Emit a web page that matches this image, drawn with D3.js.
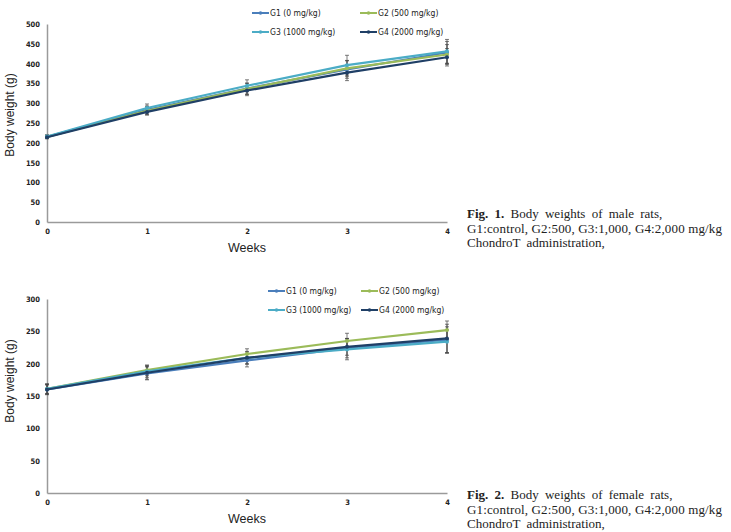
<!DOCTYPE html>
<html>
<head>
<meta charset="utf-8">
<script src="https://cdn.jsdelivr.net/npm/d3@7"></script>
<style>
  body { margin: 0; background: #fff; }
  svg { display: block; }
</style>
</head>
<body>
<div id="chart"></div>
<script>
// weeks on the x axis
const weeks = [0, 1, 2, 3, 4];
const groups = ["G1 (0 mg/kg)", "G2 (500 mg/kg)", "G3 (1000 mg/kg)", "G4 (2000 mg/kg)"];

// male rats, mean body weight (g)
const maleG1 = [215, 283, 337, 385, 428];
const maleG2 = [215, 281, 336, 388, 423];
const maleG3 = [216, 288, 344, 396, 431];
const maleG4 = [214, 278, 332, 377, 416];
// male standard deviations
const maleSdG1 = [4, 10, 14, 22, 28];
const maleSdG2 = [4, 10, 14, 20, 25];
const maleSdG3 = [4, 10, 15, 25, 30];
const maleSdG4 = [4, 8, 13, 20, 22];

// female rats, mean body weight (g)
const femaleG1 = [160, 185, 205, 224, 237];
const femaleG2 = [161, 190, 215, 235, 252];
const femaleG3 = [161, 188, 209, 222, 234];
const femaleG4 = [160, 186, 209, 226, 239];
// female standard deviations
const femaleSdG1 = [8, 10, 10, 15, 20];
const femaleSdG2 = [8, 8, 8, 12, 14];
const femaleSdG3 = [7, 9, 9, 16, 18];
const femaleSdG4 = [7, 10, 10, 13, 22];

const maleTicks = [0, 50, 100, 150, 200, 250, 300, 350, 400, 450, 500];
const femaleTicks = [0, 50, 100, 150, 200, 250, 300];

const colors = ["#4a7ebb", "#9bbb59", "#4bacc6", "#1f3f66"];
const narrow = "'DejaVu Sans Condensed', 'Liberation Sans Narrow', sans-serif";

const svg = d3.select("#chart").append("svg")
  .attr("width", 731)
  .attr("height", 532);

svg.append("rect").attr("width", 731).attr("height", 532).attr("fill", "#fff");

function drawChart(cfg) {
  const x = d3.scaleLinear().domain([0, 4]).range([47, 447]);
  const y = d3.scaleLinear().domain([0, cfg.max]).range([cfg.bottom, cfg.top]);
  const g = svg.append("g");

  // y axis
  const yAxis = g.append("g")
    .attr("transform", "translate(47,0)")
    .call(d3.axisLeft(y).tickValues(cfg.ticks).tickSize(0).tickPadding(7));
  // x axis
  const xAxis = g.append("g")
    .attr("transform", `translate(0,${cfg.bottom})`)
    .call(d3.axisBottom(x).tickValues(weeks).tickFormat(d3.format("d")).tickSize(0).tickPadding(7));

  [yAxis, xAxis].forEach(a => {
    a.select(".domain").attr("stroke", "#9a9a9a").attr("stroke-width", 1.5);
    a.selectAll("text")
      .attr("font-family", narrow)
      .attr("font-weight", "bold")
      .attr("font-size", 7.5)
      .attr("fill", "#222");
  });

  // axis titles
  g.append("text")
    .attr("x", 247).attr("y", cfg.bottom + 30)
    .attr("text-anchor", "middle")
    .attr("font-family", "'Liberation Sans', Arial, sans-serif")
    .attr("font-size", 12.5)
    .attr("fill", "#222")
    .text("Weeks");

  g.append("text")
    .attr("transform", `translate(14,${cfg.labelY}) rotate(-90)`)
    .attr("text-anchor", "middle")
    .attr("font-family", "'Liberation Sans', Arial, sans-serif")
    .attr("font-size", 12)
    .attr("fill", "#222")
    .text("Body weight (g)");

  // error bars
  cfg.series.forEach((s, i) => {
    weeks.forEach((w, j) => {
      const cx = x(w);
      const hi = y(s[j] + cfg.sd[i][j]);
      const lo = y(s[j] - cfg.sd[i][j]);
      const eb = g.append("g").attr("stroke", "#444").attr("stroke-width", 0.7);
      eb.append("line").attr("x1", cx).attr("x2", cx).attr("y1", hi).attr("y2", lo);
      eb.append("line").attr("x1", cx - 2).attr("x2", cx + 2).attr("y1", hi).attr("y2", hi);
      eb.append("line").attr("x1", cx - 2).attr("x2", cx + 2).attr("y1", lo).attr("y2", lo);
    });
  });

  const line = d3.line().x((d, j) => x(weeks[j])).y(d => y(d));

  // lines with markers
  cfg.series.forEach((s, i) => {
    g.append("path")
      .datum(s)
      .attr("d", line)
      .attr("fill", "none")
      .attr("stroke", colors[i])
      .attr("stroke-width", 2.2);
    g.selectAll(null)
      .data(s)
      .enter()
      .append("circle")
      .attr("cx", (d, j) => x(weeks[j]))
      .attr("cy", d => y(d))
      .attr("r", 2)
      .attr("fill", colors[i]);
  });

  // legend
  groups.forEach((name, i) => {
    const col = i % 2, row = Math.floor(i / 2);
    const lx = cfg.legendX[col];
    const ly = cfg.legendY + row * 19;
    g.append("line")
      .attr("x1", lx).attr("x2", lx + 17)
      .attr("y1", ly).attr("y2", ly)
      .attr("stroke", colors[i]).attr("stroke-width", 2);
    g.append("circle").attr("cx", lx + 8.5).attr("cy", ly).attr("r", 1.8).attr("fill", colors[i]);
    g.append("text")
      .attr("x", lx + 18).attr("y", ly + 3)
      .attr("font-family", narrow)
      .attr("font-size", 8.5)
      .attr("fill", "#222")
      .text(name);
  });

  // caption
  const cap = g.append("g")
    .attr("font-family", "'Liberation Serif', 'Times New Roman', serif")
    .attr("font-size", 13)
    .attr("fill", "#222");
  const t1 = cap.append("text").attr("x", 467).attr("y", cfg.capY).attr("word-spacing", 3);
  t1.append("tspan").attr("font-weight", "bold").text(cfg.fig + " ");
  t1.append("tspan").text(cfg.capTitle);
  cap.append("text").attr("x", 467).attr("y", cfg.capY + 14.5)
    .attr("textLength", 255).attr("lengthAdjust", "spacing")
    .text("G1:control, G2:500, G3:1,000, G4:2,000 mg/kg");
  cap.append("text").attr("x", 467).attr("y", cfg.capY + 29).attr("word-spacing", 3)
    .text("ChondroT administration,");
}

drawChart({
  max: 500, top: 24, bottom: 222, ticks: maleTicks, labelY: 115,
  series: [maleG1, maleG2, maleG3, maleG4],
  sd: [maleSdG1, maleSdG2, maleSdG3, maleSdG4],
  legendX: [252, 360], legendY: 13,
  fig: "Fig. 1.", capTitle: "Body weights of male rats,", capY: 218
});

drawChart({
  max: 300, top: 299, bottom: 493, ticks: femaleTicks, labelY: 381,
  series: [femaleG1, femaleG2, femaleG3, femaleG4],
  sd: [femaleSdG1, femaleSdG2, femaleSdG3, femaleSdG4],
  legendX: [268, 361], legendY: 291,
  fig: "Fig. 2.", capTitle: "Body weights of female rats,", capY: 499
});
</script>
</body>
</html>
